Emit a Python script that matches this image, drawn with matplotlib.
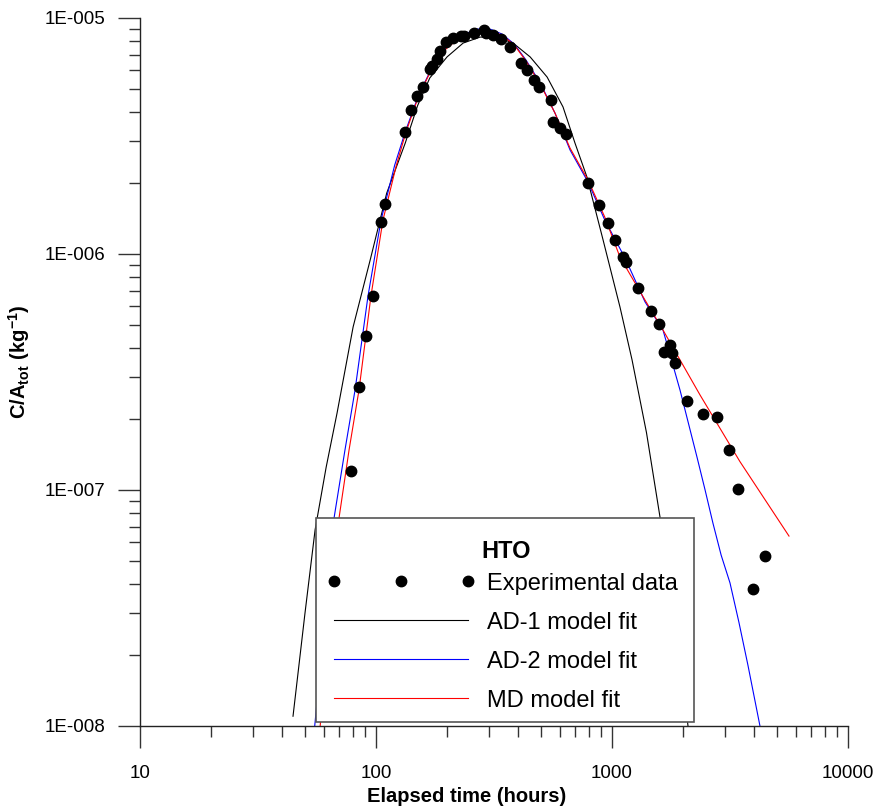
import numpy as np
import matplotlib
matplotlib.use("Agg")
import matplotlib.pyplot as plt
from matplotlib.lines import Line2D
from matplotlib.patches import Rectangle
from matplotlib.ticker import LogLocator, FuncFormatter, NullFormatter
from matplotlib.legend_handler import HandlerLine2D

plt.rcParams['font.family'] = ['Liberation Sans', 'DejaVu Sans']
plt.rcParams['mathtext.fontset'] = 'custom'
plt.rcParams['mathtext.rm'] = 'Liberation Sans'
plt.rcParams['mathtext.bf'] = 'Liberation Sans:bold'

# experimental data (hours, C/Atot)
exp_t = [78.3, 84.7, 90.8, 97.1, 105, 109, 133, 141, 149, 158, 169, 173, 181, 187,
         198, 212, 229, 236, 260, 287, 292, 313, 339, 370, 412, 436, 467, 491,
         552, 562, 603, 639, 791, 881, 961, 1030, 1114, 1146, 1289, 1463, 1582,
         1660, 1762, 1796, 1849, 2080, 2432, 2789, 3134, 3421, 4449, 3955]
exp_c = [1.20e-7, 2.73e-7, 4.50e-7, 6.64e-7, 1.37e-6, 1.63e-6, 3.29e-6, 4.07e-6,
         4.67e-6, 5.10e-6, 6.08e-6, 6.27e-6, 6.70e-6, 7.25e-6, 7.91e-6, 8.22e-6,
         8.39e-6, 8.39e-6, 8.64e-6, 8.89e-6, 8.64e-6, 8.47e-6, 8.15e-6, 7.54e-6,
         6.44e-6, 6.03e-6, 5.46e-6, 5.10e-6, 4.50e-6, 3.63e-6, 3.42e-6, 3.22e-6,
         2.00e-6, 1.62e-6, 1.35e-6, 1.15e-6, 9.70e-7, 9.24e-7, 7.18e-7, 5.73e-7,
         5.05e-7, 3.85e-7, 4.11e-7, 3.81e-7, 3.45e-7, 2.38e-7, 2.10e-7, 2.04e-7,
         1.48e-7, 1.01e-7, 5.25e-8, 3.81e-8]

# AD-1 model fit
ad1_t = [44.5, 50.0, 55.2, 61.5, 68.4, 80.0, 94.5, 111, 133, 150, 169, 200, 234, 276,
         326, 381, 450, 531, 620, 697, 783, 916, 1081, 1216, 1400, 1597, 1849, 2099]
ad1_c = [1.10e-8, 3.0e-8, 6.78e-8, 1.25e-7, 2.12e-7, 4.91e-7, 9.44e-7, 1.81e-6,
         2.95e-6, 4.25e-6, 5.57e-6, 6.84e-6, 7.83e-6, 8.30e-6, 8.30e-6, 7.83e-6,
         6.84e-6, 5.62e-6, 4.20e-6, 2.95e-6, 2.12e-6, 1.15e-6, 5.96e-7, 3.56e-7,
         1.75e-7, 7.69e-8, 3.1e-8, 1.0e-8]

# AD-2 model fit
ad2_t = [55.0, 66.4, 73.9, 81.5, 92.5, 105, 120, 133, 151, 169, 198, 231, 270, 304,
         342, 385, 432, 496, 573, 664, 791, 933, 1135, 1380, 1645, 1942, 2291,
         2480, 2677, 2900, 3162, 3450, 3767, 4236]
ad2_c = [1.0e-8, 7.60e-8, 1.48e-7, 2.65e-7, 6.64e-7, 1.39e-6, 2.38e-6, 3.29e-6,
         4.67e-6, 5.90e-6, 7.46e-6, 8.47e-6, 8.98e-6, 8.98e-6, 8.55e-6, 7.76e-6,
         6.64e-6, 5.31e-6, 3.96e-6, 2.76e-6, 2.02e-6, 1.39e-6, 9.62e-7, 6.27e-7,
         4.76e-7, 2.65e-7, 1.38e-7, 1.0e-7, 7.24e-8, 5.3e-8, 4.04e-8, 2.75e-8,
         1.81e-8, 1.0e-8]

# MD model fit
md_t = [58.0, 69.7, 76.9, 84.7, 95.2, 107, 122, 134, 151, 169, 198, 231, 270, 304,
        342, 385, 432, 496, 573, 664, 791, 933, 1081, 1380, 1645, 2359, 3483, 5623]
md_c = [1.0e-8, 7.60e-8, 1.48e-7, 2.65e-7, 6.64e-7, 1.39e-6, 2.38e-6, 3.29e-6,
        4.62e-6, 5.85e-6, 7.40e-6, 8.39e-6, 8.81e-6, 8.81e-6, 8.47e-6, 7.69e-6,
        6.58e-6, 5.25e-6, 3.96e-6, 2.81e-6, 2.06e-6, 1.43e-6, 9.70e-7, 6.38e-7,
        4.76e-7, 2.53e-7, 1.32e-7, 6.38e-8]

fig = plt.figure(figsize=(8.82, 8.10), dpi=100)
ax = fig.add_axes([140/882, 1 - 726/810, 708/882, 708/810])

ax.plot(ad1_t, ad1_c, color='black', lw=0.8, label='AD-1 model fit')
ax.plot(ad2_t, ad2_c, color='blue', lw=0.8, label='AD-2 model fit')
ax.plot(md_t, md_c, color='red', lw=0.8, label='MD model fit')
exp_line, = ax.plot(exp_t, exp_c, ls='none', marker='o', ms=7.5, color='black',
                    label='Experimental data', zorder=3)

ax.set_xscale('log')
ax.set_yscale('log')
ax.set_xlim(10, 10000)
ax.set_ylim(1e-8, 1e-5)

for s in ['top', 'right']:
    ax.spines[s].set_visible(False)
for s in ['left', 'bottom']:
    ax.spines[s].set_linewidth(1.0)
    ax.spines[s].set_color('#222222')

ax.xaxis.set_major_locator(LogLocator(base=10, numticks=10))
ax.xaxis.set_minor_locator(LogLocator(base=10, subs=np.arange(2, 10), numticks=10))
ax.yaxis.set_major_locator(LogLocator(base=10, numticks=10))
ax.yaxis.set_minor_locator(LogLocator(base=10, subs=np.arange(2, 10), numticks=10))
ax.xaxis.set_major_formatter(FuncFormatter(lambda v, p: '%d' % round(v)))
ax.yaxis.set_major_formatter(FuncFormatter(lambda v, p: '1E-%03d' % round(-np.log10(v))))
ax.xaxis.set_minor_formatter(NullFormatter())
ax.yaxis.set_minor_formatter(NullFormatter())
ax.tick_params(which='major', direction='out', length=16, width=1.0, color='#333333',
               labelsize=13.5)
ax.tick_params(axis='x', which='major', pad=12)
ax.tick_params(axis='y', which='major', pad=9)
ax.tick_params(which='minor', direction='out', length=8, width=1.0, color='#333333')

ax.set_xlabel('Elapsed time (hours)', fontsize=14.5, fontweight='bold')
ax.xaxis.set_label_coords((467 - 140) / 708, -61 / 708)
ax.set_ylabel(r'$\mathbf{C/A_{tot}\ (kg^{-1})}$', fontsize=14.5)
ax.yaxis.set_label_coords(-108 / 708, (726 - 362) / 708)

# legend box, drawn as its own patch so the padding can be uneven
box = Rectangle(((316 - 140) / 708, 4 / 708), 378 / 708, 204 / 708,
                transform=ax.transAxes, facecolor='white', edgecolor='#555555',
                lw=1.2, zorder=4.5, clip_on=False)
ax.add_patch(box)

handles = [exp_line] + ax.get_lines()[:3]
labels = [h.get_label() for h in handles]
leg = ax.legend(handles, labels, title='HTO', loc='upper left',
                bbox_to_anchor=((333.5 - 140) / 708, (726 - 540.5) / 708),
                borderaxespad=0, borderpad=0, fontsize=17, numpoints=3,
                handlelength=5.7, handletextpad=0.8, labelspacing=0.72,
                frameon=False, alignment='center',
                handler_map={Line2D: HandlerLine2D(marker_pad=0, numpoints=3)})
leg.get_title().set_fontweight('bold')
leg.get_title().set_fontsize(17)
leg._legend_box.sep = 6.5  # tighter gap between title and entries
leg.set_zorder(5)

fig.savefig('out.png', dpi=100)
